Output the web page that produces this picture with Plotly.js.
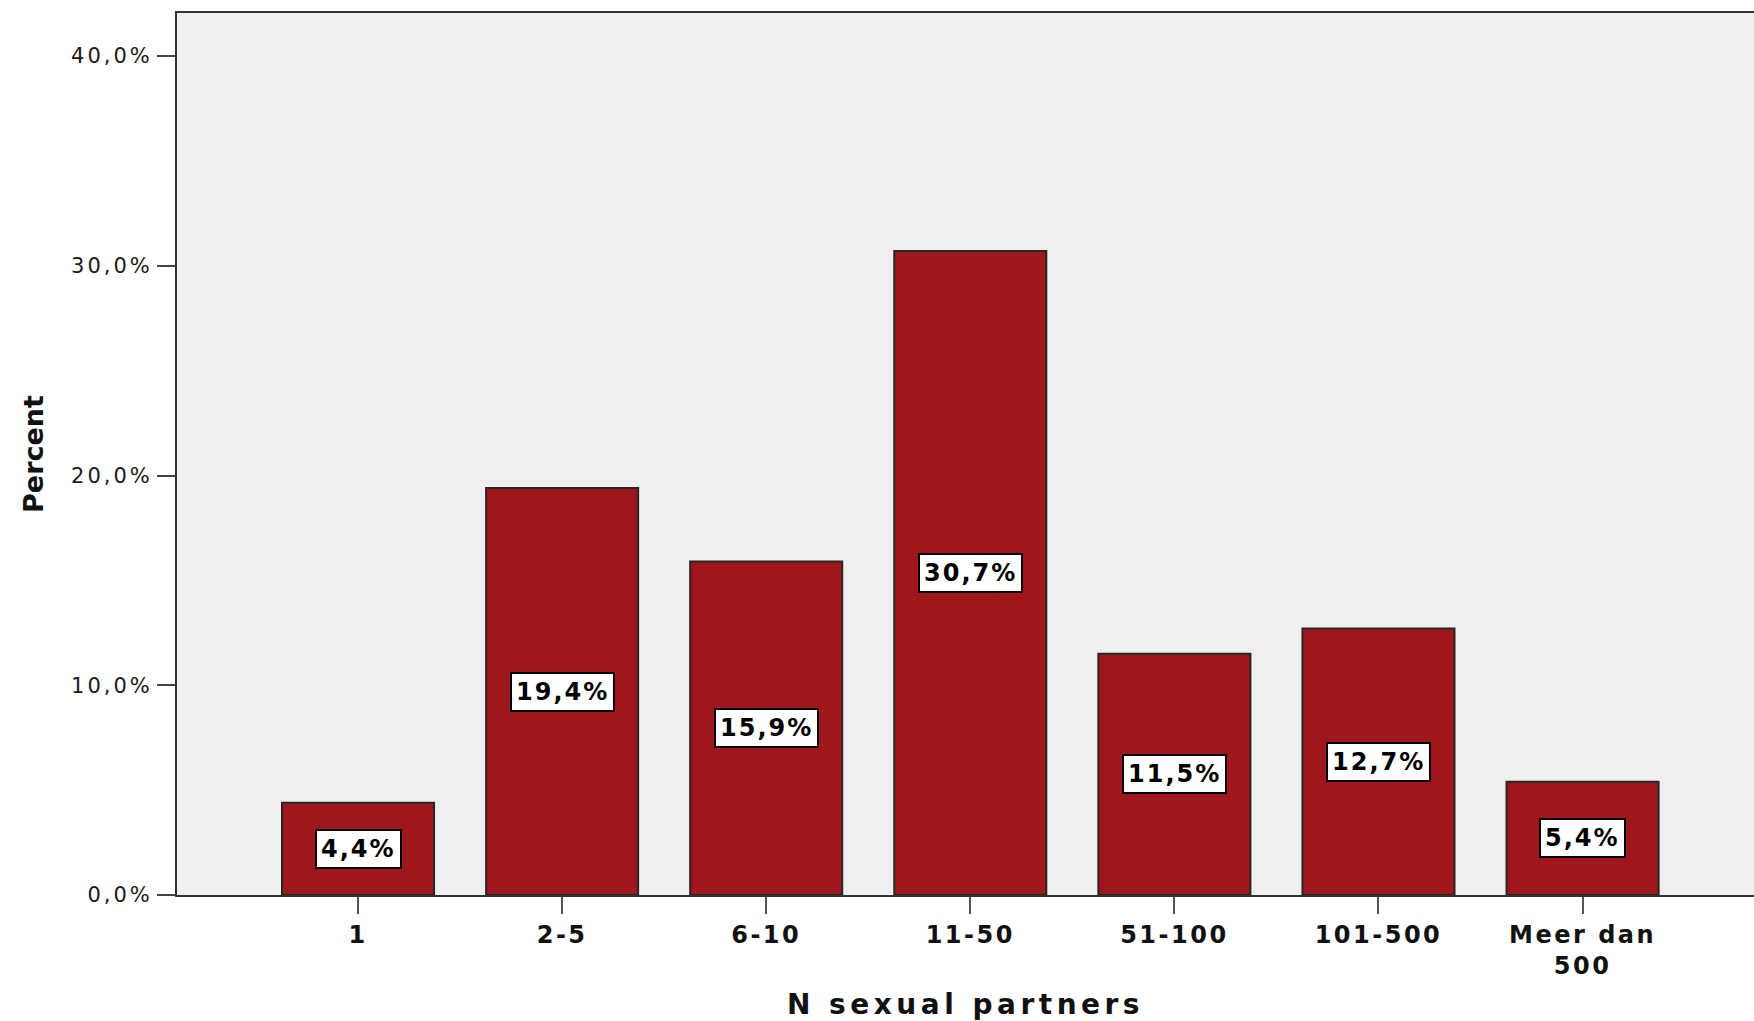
<!DOCTYPE html>
<html>
<head>
<meta charset="utf-8">
<script src="https://cdn.plot.ly/plotly-3.0.1.min.js"></script>
<style>
  html, body { margin: 0; padding: 0; background: #ffffff; }
  #chart { width: 1754px; height: 1021px; }
  .ytick text { letter-spacing: 3px; }
  .xtick text { letter-spacing: 2.5px; }
  .g-xtitle text { letter-spacing: 4.5px; }
  .annotation-text { letter-spacing: 2px; }
</style>
</head>
<body>
<div id="chart"></div>
<script>
const categories = ["1", "2-5", "6-10", "11-50", "51-100", "101-500", "Meer dan<br>500"];
const percents = [4.4, 19.4, 15.9, 30.7, 11.5, 12.7, 5.4];
const barLabels = ["4,4%", "19,4%", "15,9%", "30,7%", "11,5%", "12,7%", "5,4%"];
const yTickVals = [0, 10, 20, 30, 40];
const yTickLabels = ["0,0%", "10,0%", "20,0%", "30,0%", "40,0%"];

const trace = {
  type: "bar",
  x: categories,
  y: percents,
  width: 0.745,
  marker: { color: "#A1161A", line: { color: "#262626", width: 2 } },
  hoverinfo: "none"
};

const annotations = categories.map((c, i) => ({
  x: i,
  y: percents[i] / 2,
  xref: "x",
  yref: "y",
  text: "<b>" + barLabels[i] + "</b>",
  showarrow: false,
  font: { family: "DejaVu Sans", size: 24, color: "#000000" },
  bgcolor: "#ffffff",
  bordercolor: "#000000",
  borderwidth: 2,
  borderpad: 4
}));

const layout = {
  width: 1754,
  height: 1021,
  margin: { l: 177, r: 0, t: 13, b: 126, pad: 0 },
  paper_bgcolor: "#ffffff",
  plot_bgcolor: "#EFEFEF",
  showlegend: false,
  bargap: 0.25,
  xaxis: {
    type: "category",
    range: [-0.887, 6.84],
    showline: true,
    linecolor: "#333333",
    linewidth: 2,
    mirror: true,
    ticks: "outside",
    ticklen: 17,
    tickwidth: 2,
    tickcolor: "#555555",
    showgrid: false,
    zeroline: false,
    automargin: false,
    tickfont: { family: "DejaVu Sans", size: 24, color: "#111111", weight: "bold" },
    title: {
      text: "<b>N sexual partners</b>",
      font: { family: "DejaVu Sans", size: 28, color: "#111111" },
      standoff: 22
    }
  },
  yaxis: {
    range: [0, 42.05],
    tickvals: yTickVals,
    ticktext: yTickLabels,
    showline: true,
    linecolor: "#333333",
    linewidth: 2,
    ticks: "outside",
    ticklen: 18,
    tickwidth: 2,
    tickcolor: "#444444",
    showgrid: false,
    zeroline: false,
    automargin: false,
    tickfont: { family: "DejaVu Sans", size: 21, color: "#1a1a1a" },
    title: {
      text: "<b>Percent</b>",
      font: { family: "DejaVu Sans", size: 27, color: "#111111" },
      standoff: 20
    }
  },
  annotations: annotations
};

Plotly.newPlot("chart", [trace], layout, { staticPlot: true, displayModeBar: false });
</script>
</body>
</html>
